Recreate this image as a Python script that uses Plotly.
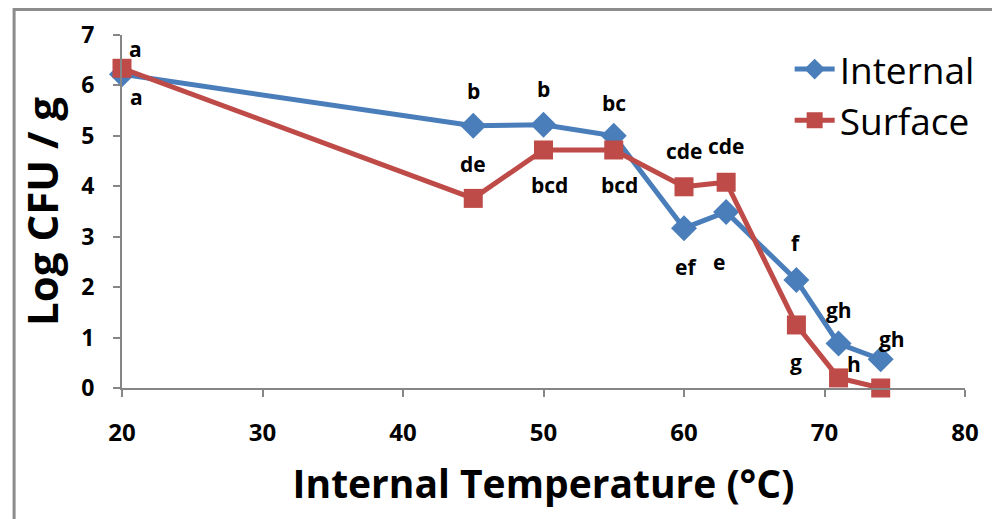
import plotly.graph_objects as go

temps = [20, 45, 50, 55, 60, 63, 68, 71, 74]
internal = [6.22, 5.20, 5.22, 5.00, 3.17, 3.49, 2.14, 0.88, 0.57]
surface = [6.34, 3.76, 4.72, 4.72, 3.99, 4.08, 1.25, 0.20, 0.00]
internal_letters = ["a", "b", "b", "bc", "ef", "e", "f", "gh", "gh"]
surface_letters = ["a", "de", "bcd", "bcd", "cde", "cde", "g", "h", ""]

# label offsets (pixels) - styling only
internal_shift = [(14, -23), (0, 35), (0, 36), (0, 33), (2, -39), (-7, -50), (0, 37), (0, 34), (11, 20)]
surface_shift = [(13, 19), (0, 34), (6, -35), (6, -35), (0, 36), (0, 36), (0, -37), (15, 14), (0, 0)]

BLUE = "#4A7EBB"
RED = "#BE4B48"
AXIS = "#868686"
FONT = "Open Sans"

fig = go.Figure()
fig.add_trace(go.Scatter(
    x=temps, y=internal, name="Internal", mode="lines+markers",
    line=dict(color=BLUE, width=5),
    marker=dict(symbol="diamond", size=20, color=BLUE),
    cliponaxis=False,
))
fig.add_trace(go.Scatter(
    x=temps, y=surface, name="Surface", mode="lines+markers",
    line=dict(color=RED, width=5),
    marker=dict(symbol="square", size=19, color=RED),
    cliponaxis=False,
))

annotations = []
for xs, ys, labels, shifts in [(temps, internal, internal_letters, internal_shift),
                               (temps, surface, surface_letters, surface_shift)]:
    for x, y, t, (dx, dy) in zip(xs, ys, labels, shifts):
        if not t:
            continue
        annotations.append(dict(
            x=x, y=y, xref="x", yref="y", text=t, showarrow=False,
            xshift=dx, yshift=dy,
            font=dict(family=FONT, size=21, color="black", weight="bold"),
        ))

fig.update_layout(
    width=1000, height=519,
    margin=dict(l=114, r=43, t=27, b=139, autoexpand=False),
    paper_bgcolor="white", plot_bgcolor="white",
    annotations=annotations,
    showlegend=True,
    legend=dict(
        x=0.792, y=0.99, xanchor="left", yanchor="top",
        font=dict(family=FONT, size=37, color="black"),
        bgcolor="rgba(0,0,0,0)", tracegroupgap=0,
        itemwidth=40,
    ),
    shapes=[dict(
        type="rect", xref="paper", yref="paper",
        x0=-0.128, x1=1.07, y0=-0.45, y1=1.072,
        line=dict(color="#8C8C8C", width=3), fillcolor="rgba(0,0,0,0)",
        layer="below",
    )],
)

fig.update_xaxes(
    range=[20, 80], dtick=10, tick0=20, automargin=False,
    showline=True, linecolor=AXIS, linewidth=2,
    ticks="outside", ticklen=7, tickcolor=AXIS, tickwidth=2,
    showgrid=False, zeroline=False,
    tickfont=dict(family=FONT, size=24, color="black", weight="bold"),
    ticklabelstandoff=15,
    title=dict(text="Internal Temperature (°C)", standoff=24,
               font=dict(family=FONT, size=39, color="black", weight="bold")),
)
fig.update_yaxes(
    range=[0, 7], dtick=1, automargin=False,
    showline=True, linecolor=AXIS, linewidth=2,
    ticks="outside", ticklen=7, tickcolor=AXIS, tickwidth=2,
    showgrid=False, zeroline=False,
    tickfont=dict(family=FONT, size=23, color="black", weight="bold"),
    ticklabelstandoff=14,
    title=dict(text="Log CFU / g", standoff=10,
               font=dict(family=FONT, size=42, color="black", weight="bold")),
)

fig.write_html("out.html")
